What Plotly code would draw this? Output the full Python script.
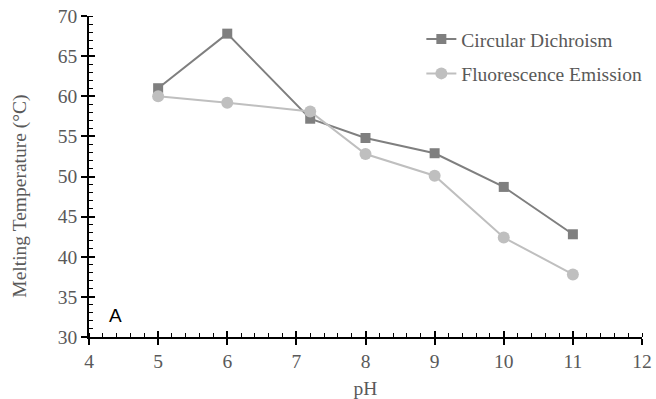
import plotly.graph_objects as go

ph_cd = [5, 6, 7.2, 8, 9, 10, 11]
tm_cd = [61.0, 67.8, 57.2, 54.8, 52.9, 48.7, 42.8]
ph_fe = [5, 6, 7.2, 8, 9, 10, 11]
tm_fe = [60.0, 59.2, 58.1, 52.8, 50.1, 42.4, 37.8]

serif = "Liberation Serif"
gray_txt = "#595959"
fs = 19.5

fig = go.Figure()
fig.add_trace(go.Scatter(x=ph_cd, y=tm_cd, mode="lines+markers", name="Circular Dichroism",
                         legendgroup="cd",
                         line=dict(color="#7f7f7f", width=2),
                         marker=dict(symbol="square", size=10, color="#7f7f7f")))
fig.add_trace(go.Scatter(x=ph_fe, y=tm_fe, mode="lines+markers", name="Fluorescence Emission",
                         legendgroup="fe",
                         line=dict(color="#bfbfbf", width=2),
                         marker=dict(symbol="circle", size=12, color="#bfbfbf")))
# invisible trace on secondary axes to show inside part of major ticks
fig.add_trace(go.Scatter(x=[4], y=[30], xaxis="x2", yaxis="y2", showlegend=False,
                         mode="markers", marker=dict(opacity=0), hoverinfo="skip"))

fig.update_layout(
    width=656, height=399,
    margin=dict(l=89, r=14, t=16, b=62, autoexpand=False),
    plot_bgcolor="white", paper_bgcolor="white",
    font=dict(family=serif, color=gray_txt, size=fs),
    xaxis=dict(range=[4, 12], dtick=1, tick0=4, showgrid=False, zeroline=False,
               showline=True, linecolor="black", linewidth=1.5, automargin=False,
               ticks="outside", ticklen=6, tickcolor="black", tickwidth=1.5,
               minor=dict(dtick=0.2, ticks="inside", ticklen=4, tickcolor="black", tickwidth=1.2),
               title=dict(text="pH", font=dict(size=fs, family=serif, color=gray_txt), standoff=12),
               tickfont=dict(size=fs, family=serif, color=gray_txt)),
    yaxis=dict(range=[30, 70], dtick=5, tick0=30, showgrid=False, zeroline=False,
               showline=True, linecolor="black", linewidth=1.5, automargin=False,
               ticks="outside", ticklen=6, tickcolor="black", tickwidth=1.5,
               minor=dict(dtick=1, ticks="inside", ticklen=4, tickcolor="black", tickwidth=1.2),
               tickfont=dict(size=fs, family=serif, color=gray_txt)),
    xaxis2=dict(overlaying="x", matches="x", range=[4, 12], dtick=1, tick0=4, side="bottom",
                showgrid=False, zeroline=False, showline=False, showticklabels=False, automargin=False,
                ticks="inside", ticklen=6, tickcolor="black", tickwidth=1.5),
    yaxis2=dict(overlaying="y", matches="y", range=[30, 70], dtick=5, tick0=30, side="left",
                showgrid=False, zeroline=False, showline=False, showticklabels=False, automargin=False,
                ticks="inside", ticklen=6, tickcolor="black", tickwidth=1.5),
    legend=dict(x=0.601, y=0.988, xanchor="left", yanchor="top", bgcolor="rgba(0,0,0,0)",
                font=dict(size=fs, family=serif, color=gray_txt),
                traceorder="grouped", tracegroupgap=6,
                itemwidth=30),
    annotations=[
        dict(x=4.38, y=32.7, xref="x", yref="y", text="A", showarrow=False,
             font=dict(family="Liberation Sans", size=19, color="black")),
        dict(x=-0.125, y=0.44, xref="paper", yref="paper", text="Melting Temperature (°C)",
             textangle=-90, showarrow=False, xanchor="center", yanchor="middle",
             font=dict(size=fs, family=serif, color=gray_txt)),
    ],
)

fig.write_html("out.html")
